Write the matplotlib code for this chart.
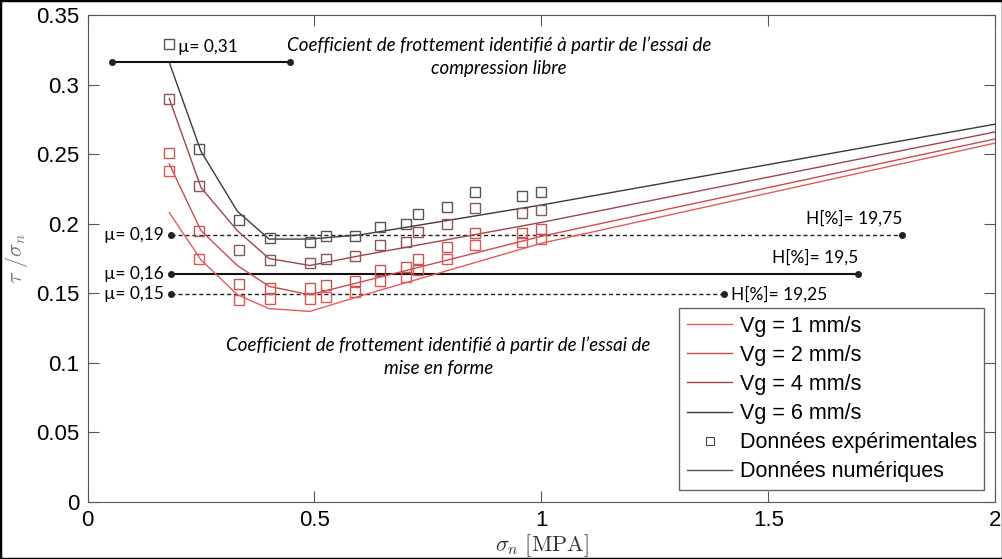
import matplotlib
matplotlib.use("Agg")
import matplotlib.pyplot as plt
from matplotlib.lines import Line2D
from matplotlib.patches import Rectangle

plt.rcParams["mathtext.fontset"] = "cm"
plt.rcParams["font.family"] = ["Liberation Sans", "DejaVu Sans"]

# experimental points (squares)
sigma_exp = [0.18, 0.246, 0.333, 0.403, 0.491, 0.526, 0.59, 0.645, 0.701, 0.727, 0.793, 0.854, 0.957, 1.0]
exp_1 = [0.238, 0.175, 0.145, 0.146, 0.146, 0.147, 0.151, 0.159, 0.162, 0.167, 0.175, 0.185, 0.187, 0.189]
exp_2 = [0.251, 0.195, 0.157, 0.154, 0.154, 0.156, 0.159, 0.167, 0.169, 0.175, 0.183, 0.193, 0.193, 0.196]
exp_4 = [0.290, 0.227, 0.181, 0.174, 0.172, 0.175, 0.177, 0.185, 0.187, 0.194, 0.200, 0.211, 0.208, 0.210]
exp_6 = [0.329, 0.254, 0.203, 0.190, 0.187, 0.191, 0.191, 0.198, 0.200, 0.207, 0.212, 0.223, 0.220, 0.223]

# numerical curves
sigma_num = [0.18, 0.25, 0.33, 0.40, 0.49, 0.60, 1.0, 2.0]
num_1 = [0.208, 0.174, 0.149, 0.139, 0.137, 0.148, 0.186, 0.258]
num_2 = [0.243, 0.195, 0.170, 0.155, 0.149, 0.158, 0.191, 0.261]
num_4 = [0.290, 0.226, 0.195, 0.175, 0.170, 0.177, 0.201, 0.266]
num_6 = [0.316, 0.252, 0.209, 0.189, 0.189, 0.192, 0.2135, 0.2716]

labels = ["Vg = 1 mm/s", "Vg = 2 mm/s", "Vg = 4 mm/s", "Vg = 6 mm/s"]
line_cols = ["#e85a5a", "#d04a4e", "#a0464a", "#3a3a3a"]
sq_cols = ["#e05555", "#c85555", "#8e5555", "#555555"]

# friction coefficient lines: (y, x start, x end, mu label, H label, style)
mu_y = [0.316, 0.192, 0.164, 0.1494]
mu_x0 = [0.053, 0.183, 0.183, 0.183]
mu_x1 = [0.447, 1.795, 1.697, 1.402]
mu_txt = ["µ= 0,31", "µ= 0,19", "µ= 0,16", "µ= 0,15"]
h_txt = ["", "H[%]= 19,75", "H[%]= 19,5", "H[%]= 19,25"]
mu_ls = ["-", "--", "-", "--"]

fig = plt.figure(figsize=(10.03, 5.59), dpi=100)
ax = fig.add_axes([0.0873, 0.102, 0.905, 0.871])

for x0, x1, y, ls in zip(mu_x0, mu_x1, mu_y, mu_ls):
    if ls == "--":
        ax.plot([x0, x1], [y, y], color="#222222", lw=1.0, ls=(0, (3, 2)), zorder=2)
    else:
        ax.plot([x0, x1], [y, y], color="#111111", lw=1.5, zorder=2)
    ax.plot([x0, x1], [y, y], "o", color="#222222", ms=4, zorder=3)

lab_font = ["Lato", "DejaVu Sans"]
ax.text(0.199, 0.327, mu_txt[0], fontsize=12.5, family=lab_font, va="center", ha="left")
for i in range(1, 4):
    ax.text(mu_x0[i] - 0.015, mu_y[i], mu_txt[i], fontsize=12.5, family=lab_font,
            va="center", ha="right")
ax.text(1.795, mu_y[1] + 0.0115, h_txt[1], fontsize=12.5, family=lab_font, va="center", ha="right")
ax.text(1.697, mu_y[2] + 0.0115, h_txt[2], fontsize=12.5, family=lab_font, va="center", ha="right")
ax.text(1.418, mu_y[3], h_txt[3], fontsize=12.5, family=lab_font, va="center", ha="left")

ax.text(0.907, 0.3285, "Coefficient de frottement identifié à partir de l\u2019essai de",
        fontsize=13.5, style="italic", family=lab_font, ha="center", va="center")
ax.text(0.907, 0.3115, "compression libre", fontsize=13.5, style="italic", family=lab_font,
        ha="center", va="center")
ax.text(0.773, 0.1128, "Coefficient de frottement identifié à partir de l\u2019essai de",
        fontsize=13.5, style="italic", family=lab_font, ha="center", va="center")
ax.text(0.773, 0.0963, "mise en forme", fontsize=13.5, style="italic", family=lab_font,
        ha="center", va="center")

exps = [exp_1, exp_2, exp_4, exp_6]
nums = [num_1, num_2, num_4, num_6]
for i in range(4):
    ax.plot(sigma_num, nums[i], color=line_cols[i], lw=1.0, zorder=4)
    ax.plot(sigma_exp, exps[i], "s", mfc="none", mec=sq_cols[i], ms=7.5, mew=1.0, zorder=5)

ax.set_xlim(0, 2)
ax.set_ylim(0, 0.35)
ax.set_xticks([0, 0.5, 1, 1.5, 2])
ax.set_xticklabels(["0", "0.5", "1", "1.5", "2"])
ax.set_yticks([0, 0.05, 0.1, 0.15, 0.2, 0.25, 0.3, 0.35])
ax.set_yticklabels(["0", "0.05", "0.1", "0.15", "0.2", "0.25", "0.3", "0.35"])
ax.tick_params(direction="in", length=8, width=0.8, color="#555555", labelsize=16,
               top=True, right=True, pad=6)
for s in ax.spines.values():
    s.set_color("#555555")
    s.set_linewidth(0.8)

ax.set_xlabel(r"$\sigma_n\ \mathrm{[MPA]}$", fontsize=16, color="#333333", labelpad=1)
ax.set_ylabel(r"$\tau\ /\sigma_n$", fontsize=16, color="#777777", labelpad=4)

handles = [Line2D([], [], color=c, lw=1.0) for c in line_cols]
handles.append(Line2D([], [], ls="none", marker="s", mfc="none", mec="#444444", ms=6, mew=0.8))
handles.append(Line2D([], [], color="#555555", lw=1.0))
leg = ax.legend(handles, labels + ["Données expérimentales", "Données numériques"],
                loc="lower right", bbox_to_anchor=(0.988, 0.0246), borderaxespad=0,
                fontsize=15.5, fancybox=False, framealpha=1, edgecolor="#666666",
                handlelength=2.1, handletextpad=0.35, labelspacing=0.38, borderpad=0.35)
leg.get_frame().set_linewidth(1.0)

fig.patches.append(Rectangle((0, 0), 1, 1, transform=fig.transFigure, fill=False,
                             ec="black", lw=2.5))

fig.savefig("out.png", dpi=100)
